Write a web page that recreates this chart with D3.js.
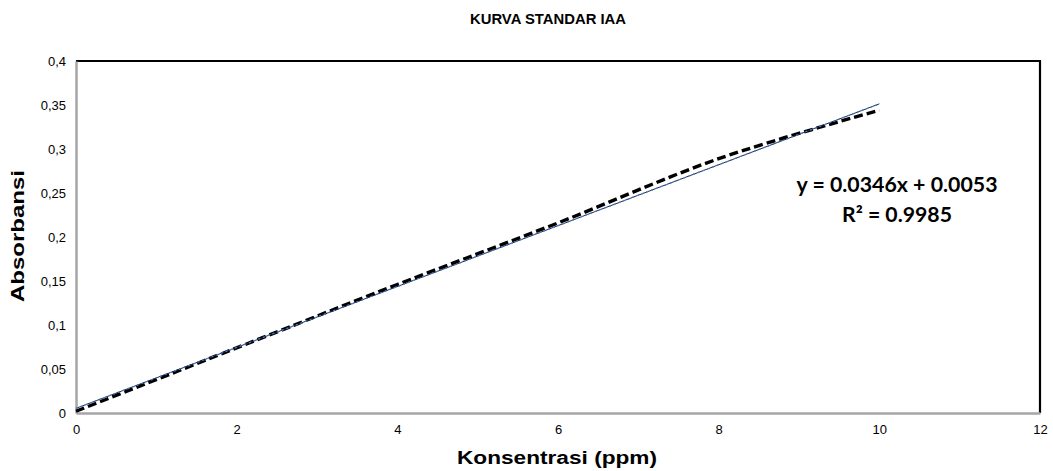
<!DOCTYPE html>
<html><head><meta charset="utf-8">
<script src="https://cdn.jsdelivr.net/npm/d3@7"></script>
<style>body{margin:0;background:#fff}svg{display:block}</style>
</head><body>
<svg id="c" width="1053" height="471"></svg>
<script>
const concentrations = [0, 2, 4, 6, 8, 10];
const absorbance = [0.002, 0.074, 0.146, 0.216, 0.289, 0.344];
const xTicks = [0, 2, 4, 6, 8, 10, 12];
const yTicks = [0, 0.05, 0.1, 0.15, 0.2, 0.25, 0.3, 0.35, 0.4];
const slope = 0.0346, intercept = 0.0053;
const equationLines = ["y = 0.0346x + 0.0053", "R² = 0.9985"];

const svg = d3.select("#c");
const L = 76, R = 1040, T = 61, B = 413;
const x = d3.scaleLinear().domain([0, 12]).range([L, R]);
const y = d3.scaleLinear().domain([0, 0.4]).range([B, T]);
const fmt = d => String(d).replace(".", ",");
const SANS = "Liberation Sans, Arial, sans-serif";

// frame
svg.append("line").attr("x1", L).attr("x2", R + 1).attr("y1", T).attr("y2", T).attr("stroke", "#000").attr("stroke-width", 2.2);
svg.append("line").attr("x1", R).attr("x2", R).attr("y1", T).attr("y2", B).attr("stroke", "#000").attr("stroke-width", 2.2);

// axes
const xa = svg.append("g").attr("transform", `translate(0,${B})`)
  .call(d3.axisBottom(x).tickValues(xTicks).tickFormat(fmt).tickSize(0).tickPadding(12));
const ya = svg.append("g").attr("transform", `translate(${L},0)`)
  .call(d3.axisLeft(y).tickValues(yTicks).tickFormat(fmt).tickSize(0).tickPadding(10));
[xa, ya].forEach(a => {
  a.select(".domain").attr("stroke", "#a6a6a6").attr("stroke-width", 2.5);
  a.selectAll("text").attr("font-family", SANS).attr("font-size", 13).attr("fill", "#000");
});

// data series: smoothed thick dashed black
const pts = concentrations.map((c, i) => [c, absorbance[i]]);
svg.append("path").datum(pts)
  .attr("d", d3.line().x(d => x(d[0])).y(d => y(d[1])).curve(d3.curveCatmullRom.alpha(0.5)))
  .attr("fill", "none").attr("stroke", "#000").attr("stroke-width", 3.4)
  .attr("stroke-dasharray", "9,4");

// linear trendline
const tr = [0, 10].map(c => [c, slope * c + intercept]);
const tl = d3.line().x(d => x(d[0])).y(d => y(d[1]));
svg.append("path").datum(tr).attr("d", tl).attr("fill", "none").attr("stroke", "#1f2a44").attr("stroke-width", 1);
svg.append("path").datum(tr).attr("d", tl).attr("fill", "none").attr("stroke", "#4a7bd8").attr("stroke-width", 1.3).attr("stroke-dasharray", "2,3");

// equation
const eqLen = [201, 110];
svg.selectAll("text.eq").data(equationLines).enter().append("text")
  .attr("class", "eq").attr("x", 897).attr("y", (d, i) => 192 + i * 30)
  .attr("text-anchor", "middle").attr("font-family", "Lato, 'Open Sans', sans-serif")
  .attr("font-weight", "bold").attr("font-size", 20).attr("fill", "#000")
  .attr("textLength", (d, i) => eqLen[i]).attr("lengthAdjust", "spacingAndGlyphs").text(d => d);

// titles
svg.append("text").attr("x", 548).attr("y", 24).attr("text-anchor", "middle")
  .attr("font-family", SANS).attr("font-weight", "bold").attr("font-size", 15)
  .attr("textLength", 156).attr("lengthAdjust", "spacingAndGlyphs").text("KURVA STANDAR IAA");
svg.append("text").attr("x", 557).attr("y", 464).attr("text-anchor", "middle")
  .attr("font-family", SANS).attr("font-weight", "bold").attr("font-size", 18)
  .attr("textLength", 200).attr("lengthAdjust", "spacingAndGlyphs").text("Konsentrasi (ppm)");
svg.append("text").attr("transform", "translate(24,236) rotate(-90)").attr("text-anchor", "middle")
  .attr("font-family", SANS).attr("font-weight", "bold").attr("font-size", 18)
  .attr("textLength", 132).attr("lengthAdjust", "spacingAndGlyphs").text("Absorbansi");
</script>
</body></html>
